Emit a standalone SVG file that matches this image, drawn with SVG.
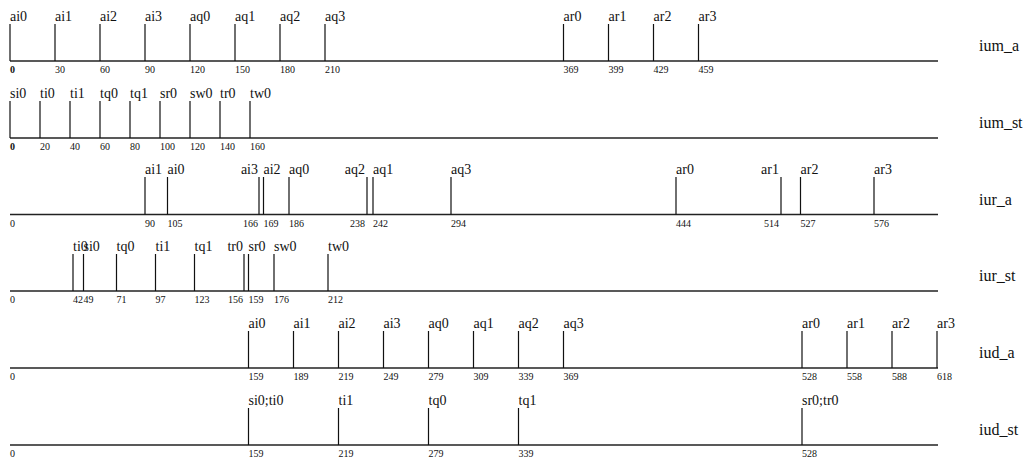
<svg xmlns="http://www.w3.org/2000/svg" width="1029" height="459" viewBox="0 0 1029 459">
<style>
.ax{stroke:#222;stroke-width:1.5;fill:none}
.tk{stroke:#111;stroke-width:1.2;fill:none}
text{font-family:"Liberation Serif","Times New Roman",serif;fill:#111}
.lb{font-size:14px}
.nm{font-size:10px}
.nb{font-size:10px;font-weight:bold}
.rn{font-size:16px}
.e{text-anchor:end}
</style>
<rect width="1029" height="459" fill="#fff"/>
<g id="ium_a">
<line class="ax" x1="10" y1="61" x2="938" y2="61"/>
<path class="tk" d="M10 24V61M55 24V61M100 24V61M145 24V61M190 24V61M235 24V61M280 24V61M325 24V61M563.5 24V61M608.5 24V61M653.5 24V61M698.5 24V61"/>
<g class="lb"><text x="10" y="20.5">ai0</text><text x="55" y="20.5">ai1</text><text x="100" y="20.5">ai2</text><text x="145" y="20.5">ai3</text><text x="190" y="20.5">aq0</text><text x="235" y="20.5">aq1</text><text x="280" y="20.5">aq2</text><text x="325" y="20.5">aq3</text><text x="563.5" y="20.5">ar0</text><text x="608.5" y="20.5">ar1</text><text x="653.5" y="20.5">ar2</text><text x="698.5" y="20.5">ar3</text></g>
<text class="nb" x="10" y="73">0</text>
<g class="nm"><text x="55" y="73">30</text><text x="100" y="73">60</text><text x="145" y="73">90</text><text x="190" y="73">120</text><text x="235" y="73">150</text><text x="280" y="73">180</text><text x="325" y="73">210</text><text x="563.5" y="73">369</text><text x="608.5" y="73">399</text><text x="653.5" y="73">429</text><text x="698.5" y="73">459</text></g>
<text class="rn" x="979" y="51">ium_a</text>
</g>
<g id="ium_st">
<line class="ax" x1="10" y1="138" x2="938" y2="138"/>
<path class="tk" d="M10 101V138M40 101V138M70 101V138M100 101V138M130 101V138M160 101V138M190 101V138M220 101V138M250 101V138"/>
<g class="lb"><text x="10" y="97.5">si0</text><text x="40" y="97.5">ti0</text><text x="70" y="97.5">ti1</text><text x="100" y="97.5">tq0</text><text x="130" y="97.5">tq1</text><text x="160" y="97.5">sr0</text><text x="190" y="97.5">sw0</text><text x="220" y="97.5">tr0</text><text x="250" y="97.5">tw0</text></g>
<text class="nb" x="10" y="150">0</text>
<g class="nm"><text x="40" y="150">20</text><text x="70" y="150">40</text><text x="100" y="150">60</text><text x="130" y="150">80</text><text x="160" y="150">100</text><text x="190" y="150">120</text><text x="220" y="150">140</text><text x="250" y="150">160</text></g>
<text class="rn" x="979" y="128">ium_st</text>
</g>
<g id="iur_a">
<line class="ax" x1="10" y1="214.5" x2="938" y2="214.5"/>
<path class="tk" d="M145 177V214.5M167.5 177V214.5M259 177V214.5M263.5 177V214.5M289 177V214.5M367 177V214.5M373 177V214.5M451 177V214.5M676 177V214.5M781 177V214.5M800.5 177V214.5M874 177V214.5"/>
<g class="lb"><text x="145" y="174">ai1</text><text x="167.5" y="174">ai0</text><text class="e" x="258" y="174">ai3</text><text x="263.5" y="174">ai2</text><text x="289" y="174">aq0</text><text class="e" x="365" y="174">aq2</text><text x="373" y="174">aq1</text><text x="451" y="174">aq3</text><text x="676" y="174">ar0</text><text class="e" x="779" y="174">ar1</text><text x="800.5" y="174">ar2</text><text x="874" y="174">ar3</text></g>
<g class="nm"><text x="10" y="226.5">0</text><text x="145" y="226.5">90</text><text x="167.5" y="226.5">105</text><text class="e" x="258" y="226.5">166</text><text x="263.5" y="226.5">169</text><text x="289" y="226.5">186</text><text class="e" x="365" y="226.5">238</text><text x="373" y="226.5">242</text><text x="451" y="226.5">294</text><text x="676" y="226.5">444</text><text class="e" x="779" y="226.5">514</text><text x="800.5" y="226.5">527</text><text x="874" y="226.5">576</text></g>
<text class="rn" x="979" y="204.5">iur_a</text>
</g>
<g id="iur_st">
<line class="ax" x1="10" y1="291" x2="938" y2="291"/>
<path class="tk" d="M73 254V291M83.5 254V291M116.5 254V291M155.5 254V291M194.5 254V291M244 254V291M248.5 254V291M274 254V291M328 254V291"/>
<g class="lb"><text x="73" y="250.5">ti0</text><text x="83.5" y="250.5">si0</text><text x="116.5" y="250.5">tq0</text><text x="155.5" y="250.5">ti1</text><text x="194.5" y="250.5">tq1</text><text class="e" x="243" y="250.5">tr0</text><text x="248.5" y="250.5">sr0</text><text x="274" y="250.5">sw0</text><text x="328" y="250.5">tw0</text></g>
<g class="nm"><text x="10" y="303">0</text><text x="73" y="303">42</text><text x="83.5" y="303">49</text><text x="116.5" y="303">71</text><text x="155.5" y="303">97</text><text x="194.5" y="303">123</text><text class="e" x="243" y="303">156</text><text x="248.5" y="303">159</text><text x="274" y="303">176</text><text x="328" y="303">212</text></g>
<text class="rn" x="979" y="281">iur_st</text>
</g>
<g id="iud_a">
<line class="ax" x1="10" y1="368" x2="938" y2="368"/>
<path class="tk" d="M248.5 331V368M293.5 331V368M338.5 331V368M383.5 331V368M428.5 331V368M473.5 331V368M518.5 331V368M563.5 331V368M802 331V368M847 331V368M892 331V368M937 331V368"/>
<g class="lb"><text x="248.5" y="327.5">ai0</text><text x="293.5" y="327.5">ai1</text><text x="338.5" y="327.5">ai2</text><text x="383.5" y="327.5">ai3</text><text x="428.5" y="327.5">aq0</text><text x="473.5" y="327.5">aq1</text><text x="518.5" y="327.5">aq2</text><text x="563.5" y="327.5">aq3</text><text x="802" y="327.5">ar0</text><text x="847" y="327.5">ar1</text><text x="892" y="327.5">ar2</text><text x="937" y="327.5">ar3</text></g>
<g class="nm"><text x="10" y="380">0</text><text x="248.5" y="380">159</text><text x="293.5" y="380">189</text><text x="338.5" y="380">219</text><text x="383.5" y="380">249</text><text x="428.5" y="380">279</text><text x="473.5" y="380">309</text><text x="518.5" y="380">339</text><text x="563.5" y="380">369</text><text x="802" y="380">528</text><text x="847" y="380">558</text><text x="892" y="380">588</text><text x="937" y="380">618</text></g>
<text class="rn" x="979" y="358">iud_a</text>
</g>
<g id="iud_st">
<line class="ax" x1="10" y1="445" x2="938" y2="445"/>
<path class="tk" d="M248.5 408V445M338.5 408V445M428.5 408V445M518.5 408V445M802 408V445"/>
<g class="lb"><text x="248.5" y="404.5">si0;ti0</text><text x="338.5" y="404.5">ti1</text><text x="428.5" y="404.5">tq0</text><text x="518.5" y="404.5">tq1</text><text x="802" y="404.5">sr0;tr0</text></g>
<g class="nm"><text x="10" y="457">0</text><text x="248.5" y="457">159</text><text x="338.5" y="457">219</text><text x="428.5" y="457">279</text><text x="518.5" y="457">339</text><text x="802" y="457">528</text></g>
<text class="rn" x="979" y="435">iud_st</text>
</g>
<g id="connectors"/>
</svg>
